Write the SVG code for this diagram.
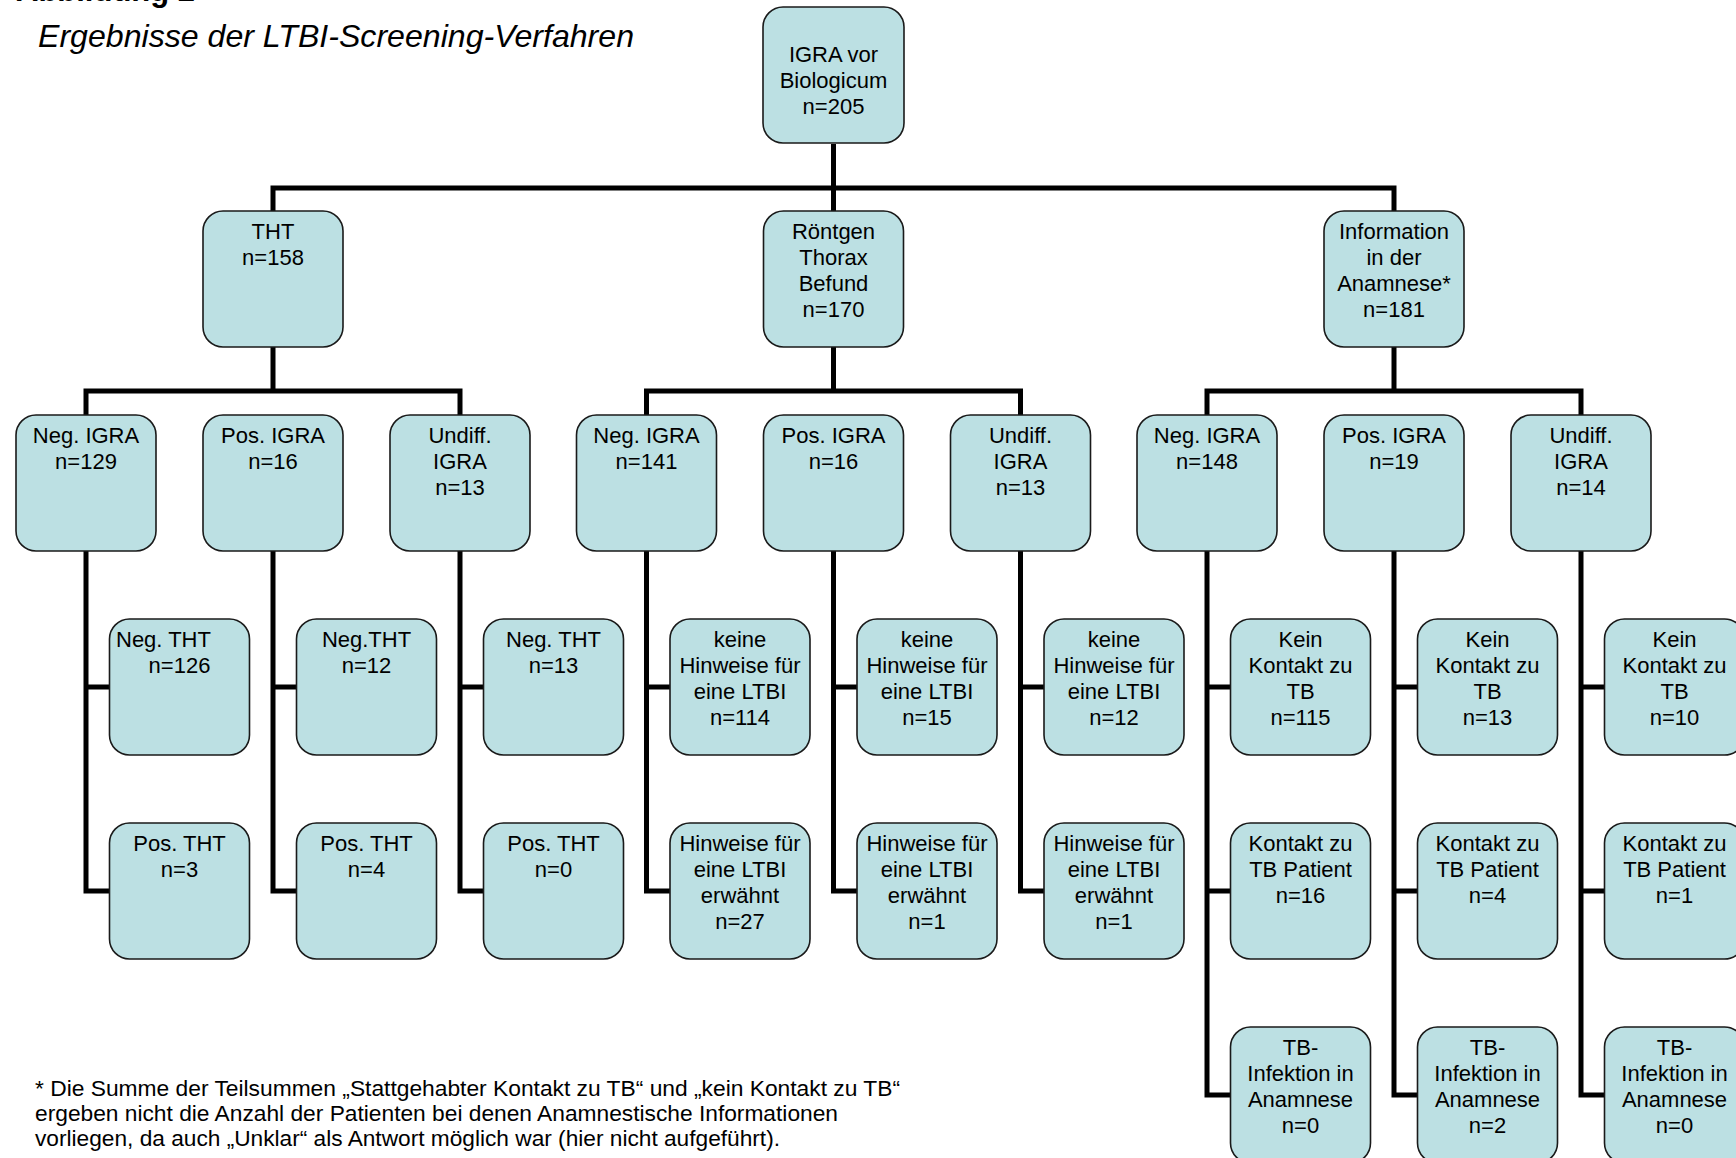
<svg xmlns="http://www.w3.org/2000/svg" width="1736" height="1158" viewBox="0 0 1736 1158">
<style>
.box{fill:#BCE0E3;stroke:#1a1a1a;stroke-width:1.6}
.t{font-family:"Liberation Sans",Arial,sans-serif;font-size:22px;fill:#000;text-anchor:middle}
.c{fill:none;stroke:#000;stroke-width:5;stroke-linejoin:miter;stroke-linecap:butt}
.fn{font-family:"Liberation Sans",Arial,sans-serif;font-size:22px;fill:#000}
</style>
<rect width="1736" height="1158" fill="#fff"/>
<text x="16" y="1" font-family="Liberation Sans,Arial,sans-serif" font-weight="bold" font-size="31">Abbildung 2</text>
<text x="38" y="47" font-family="Liberation Sans,Arial,sans-serif" font-style="italic" font-size="32" textLength="596" lengthAdjust="spacingAndGlyphs">Ergebnisse der LTBI-Screening-Verfahren</text>

<g id="connectors" class="c">
<path d="M273,211 V188 H1394 V211 M833.5,144 V211"/>
<path d="M273,347 V391 M86,415 V391 H460 V415"/>
<path d="M833.5,347 V391 M646.5,415 V391 H1020.5 V415"/>
<path d="M1394,347 V391 M1207,415 V391 H1581 V415"/>
<path d="M86,551 V891 H109.5 M86,687 H109.5"/>
<path d="M273,551 V891 H296.5 M273,687 H296.5"/>
<path d="M460,551 V891 H483.5 M460,687 H483.5"/>
<path d="M646.5,551 V891 H670 M646.5,687 H670"/>
<path d="M833.5,551 V891 H857 M833.5,687 H857"/>
<path d="M1020.5,551 V891 H1044 M1020.5,687 H1044"/>
<path d="M1207,551 V1095 H1230.5 M1207,687 H1230.5 M1207,891 H1230.5"/>
<path d="M1394,551 V1095 H1417.5 M1394,687 H1417.5 M1394,891 H1417.5"/>
<path d="M1581,551 V1095 H1604.5 M1581,687 H1604.5 M1581,891 H1604.5"/>
</g>

<g id="root"><rect class="box" x="763" y="7" width="141" height="136" rx="20"/>
<text class="t" x="833.5" y="62">IGRA vor</text><text class="t" x="833.5" y="88">Biologicum</text><text class="t" x="833.5" y="114">n=205</text></g>

<g id="tht"><rect class="box" x="203" y="211" width="140" height="136" rx="20"/>
<text class="t" x="273" y="239">THT</text><text class="t" x="273" y="265">n=158</text></g>
<g id="roentgen"><rect class="box" x="763.5" y="211" width="140" height="136" rx="20"/>
<text class="t" x="833.5" y="239">Röntgen</text><text class="t" x="833.5" y="265">Thorax</text><text class="t" x="833.5" y="291">Befund</text><text class="t" x="833.5" y="317">n=170</text></g>
<g id="anamnese"><rect class="box" x="1324" y="211" width="140" height="136" rx="20"/>
<text class="t" x="1394" y="239">Information</text><text class="t" x="1394" y="265">in der</text><text class="t" x="1394" y="291">Anamnese*</text><text class="t" x="1394" y="317">n=181</text></g>

<g id="tht-neg"><rect class="box" x="16" y="415" width="140" height="136" rx="20"/>
<text class="t" x="86" y="443">Neg. IGRA</text><text class="t" x="86" y="469">n=129</text></g>
<g id="tht-pos"><rect class="box" x="203" y="415" width="140" height="136" rx="20"/>
<text class="t" x="273" y="443">Pos. IGRA</text><text class="t" x="273" y="469">n=16</text></g>
<g id="tht-undiff"><rect class="box" x="390" y="415" width="140" height="136" rx="20"/>
<text class="t" x="460" y="443">Undiff.</text><text class="t" x="460" y="469">IGRA</text><text class="t" x="460" y="495">n=13</text></g>
<g id="rx-neg"><rect class="box" x="576.5" y="415" width="140" height="136" rx="20"/>
<text class="t" x="646.5" y="443">Neg. IGRA</text><text class="t" x="646.5" y="469">n=141</text></g>
<g id="rx-pos"><rect class="box" x="763.5" y="415" width="140" height="136" rx="20"/>
<text class="t" x="833.5" y="443">Pos. IGRA</text><text class="t" x="833.5" y="469">n=16</text></g>
<g id="rx-undiff"><rect class="box" x="950.5" y="415" width="140" height="136" rx="20"/>
<text class="t" x="1020.5" y="443">Undiff.</text><text class="t" x="1020.5" y="469">IGRA</text><text class="t" x="1020.5" y="495">n=13</text></g>
<g id="an-neg"><rect class="box" x="1137" y="415" width="140" height="136" rx="20"/>
<text class="t" x="1207" y="443">Neg. IGRA</text><text class="t" x="1207" y="469">n=148</text></g>
<g id="an-pos"><rect class="box" x="1324" y="415" width="140" height="136" rx="20"/>
<text class="t" x="1394" y="443">Pos. IGRA</text><text class="t" x="1394" y="469">n=19</text></g>
<g id="an-undiff"><rect class="box" x="1511" y="415" width="140" height="136" rx="20"/>
<text class="t" x="1581" y="443">Undiff.</text><text class="t" x="1581" y="469">IGRA</text><text class="t" x="1581" y="495">n=14</text></g>

<g id="c0a"><rect class="box" x="109.5" y="619" width="140" height="136" rx="20"/>
<text class="t" x="116" y="647" text-anchor="start" style="text-anchor:start">Neg. THT</text><text class="t" x="179.5" y="673">n=126</text></g>
<g id="c0b"><rect class="box" x="109.5" y="823" width="140" height="136" rx="20"/>
<text class="t" x="179.5" y="851">Pos. THT</text><text class="t" x="179.5" y="877">n=3</text></g>
<g id="c1a"><rect class="box" x="296.5" y="619" width="140" height="136" rx="20"/>
<text class="t" x="366.5" y="647">Neg.THT</text><text class="t" x="366.5" y="673">n=12</text></g>
<g id="c1b"><rect class="box" x="296.5" y="823" width="140" height="136" rx="20"/>
<text class="t" x="366.5" y="851">Pos. THT</text><text class="t" x="366.5" y="877">n=4</text></g>
<g id="c2a"><rect class="box" x="483.5" y="619" width="140" height="136" rx="20"/>
<text class="t" x="553.5" y="647">Neg. THT</text><text class="t" x="553.5" y="673">n=13</text></g>
<g id="c2b"><rect class="box" x="483.5" y="823" width="140" height="136" rx="20"/>
<text class="t" x="553.5" y="851">Pos. THT</text><text class="t" x="553.5" y="877">n=0</text></g>

<g id="c3a"><rect class="box" x="670" y="619" width="140" height="136" rx="20"/>
<text class="t" x="740" y="647">keine</text><text class="t" x="740" y="673">Hinweise für</text><text class="t" x="740" y="699">eine LTBI</text><text class="t" x="740" y="725">n=114</text></g>
<g id="c3b"><rect class="box" x="670" y="823" width="140" height="136" rx="20"/>
<text class="t" x="740" y="851">Hinweise für</text><text class="t" x="740" y="877">eine LTBI</text><text class="t" x="740" y="903">erwähnt</text><text class="t" x="740" y="929">n=27</text></g>
<g id="c4a"><rect class="box" x="857" y="619" width="140" height="136" rx="20"/>
<text class="t" x="927" y="647">keine</text><text class="t" x="927" y="673">Hinweise für</text><text class="t" x="927" y="699">eine LTBI</text><text class="t" x="927" y="725">n=15</text></g>
<g id="c4b"><rect class="box" x="857" y="823" width="140" height="136" rx="20"/>
<text class="t" x="927" y="851">Hinweise für</text><text class="t" x="927" y="877">eine LTBI</text><text class="t" x="927" y="903">erwähnt</text><text class="t" x="927" y="929">n=1</text></g>
<g id="c5a"><rect class="box" x="1044" y="619" width="140" height="136" rx="20"/>
<text class="t" x="1114" y="647">keine</text><text class="t" x="1114" y="673">Hinweise für</text><text class="t" x="1114" y="699">eine LTBI</text><text class="t" x="1114" y="725">n=12</text></g>
<g id="c5b"><rect class="box" x="1044" y="823" width="140" height="136" rx="20"/>
<text class="t" x="1114" y="851">Hinweise für</text><text class="t" x="1114" y="877">eine LTBI</text><text class="t" x="1114" y="903">erwähnt</text><text class="t" x="1114" y="929">n=1</text></g>

<g id="c6a"><rect class="box" x="1230.5" y="619" width="140" height="136" rx="20"/>
<text class="t" x="1300.5" y="647">Kein</text><text class="t" x="1300.5" y="673">Kontakt zu</text><text class="t" x="1300.5" y="699">TB</text><text class="t" x="1300.5" y="725">n=115</text></g>
<g id="c6b"><rect class="box" x="1230.5" y="823" width="140" height="136" rx="20"/>
<text class="t" x="1300.5" y="851">Kontakt zu</text><text class="t" x="1300.5" y="877">TB Patient</text><text class="t" x="1300.5" y="903">n=16</text></g>
<g id="c6c"><rect class="box" x="1230.5" y="1027" width="140" height="136" rx="20"/>
<text class="t" x="1300.5" y="1055">TB-</text><text class="t" x="1300.5" y="1081">Infektion in</text><text class="t" x="1300.5" y="1107">Anamnese</text><text class="t" x="1300.5" y="1133">n=0</text></g>
<g id="c7a"><rect class="box" x="1417.5" y="619" width="140" height="136" rx="20"/>
<text class="t" x="1487.5" y="647">Kein</text><text class="t" x="1487.5" y="673">Kontakt zu</text><text class="t" x="1487.5" y="699">TB</text><text class="t" x="1487.5" y="725">n=13</text></g>
<g id="c7b"><rect class="box" x="1417.5" y="823" width="140" height="136" rx="20"/>
<text class="t" x="1487.5" y="851">Kontakt zu</text><text class="t" x="1487.5" y="877">TB Patient</text><text class="t" x="1487.5" y="903">n=4</text></g>
<g id="c7c"><rect class="box" x="1417.5" y="1027" width="140" height="136" rx="20"/>
<text class="t" x="1487.5" y="1055">TB-</text><text class="t" x="1487.5" y="1081">Infektion in</text><text class="t" x="1487.5" y="1107">Anamnese</text><text class="t" x="1487.5" y="1133">n=2</text></g>
<g id="c8a"><rect class="box" x="1604.5" y="619" width="140" height="136" rx="20"/>
<text class="t" x="1674.5" y="647">Kein</text><text class="t" x="1674.5" y="673">Kontakt zu</text><text class="t" x="1674.5" y="699">TB</text><text class="t" x="1674.5" y="725">n=10</text></g>
<g id="c8b"><rect class="box" x="1604.5" y="823" width="140" height="136" rx="20"/>
<text class="t" x="1674.5" y="851">Kontakt zu</text><text class="t" x="1674.5" y="877">TB Patient</text><text class="t" x="1674.5" y="903">n=1</text></g>
<g id="c8c"><rect class="box" x="1604.5" y="1027" width="140" height="136" rx="20"/>
<text class="t" x="1674.5" y="1055">TB-</text><text class="t" x="1674.5" y="1081">Infektion in</text><text class="t" x="1674.5" y="1107">Anamnese</text><text class="t" x="1674.5" y="1133">n=0</text></g>

<g id="footnote" class="fn">
<text x="35" y="1096" textLength="865" lengthAdjust="spacingAndGlyphs">* Die Summe der Teilsummen „Stattgehabter Kontakt zu TB“ und „kein Kontakt zu TB“</text>
<text x="35" y="1121" textLength="803" lengthAdjust="spacingAndGlyphs">ergeben nicht die Anzahl der Patienten bei denen Anamnestische Informationen</text>
<text x="35" y="1146" textLength="745" lengthAdjust="spacingAndGlyphs">vorliegen, da auch „Unklar“ als Antwort möglich war (hier nicht aufgeführt).</text>
</g>
</svg>
